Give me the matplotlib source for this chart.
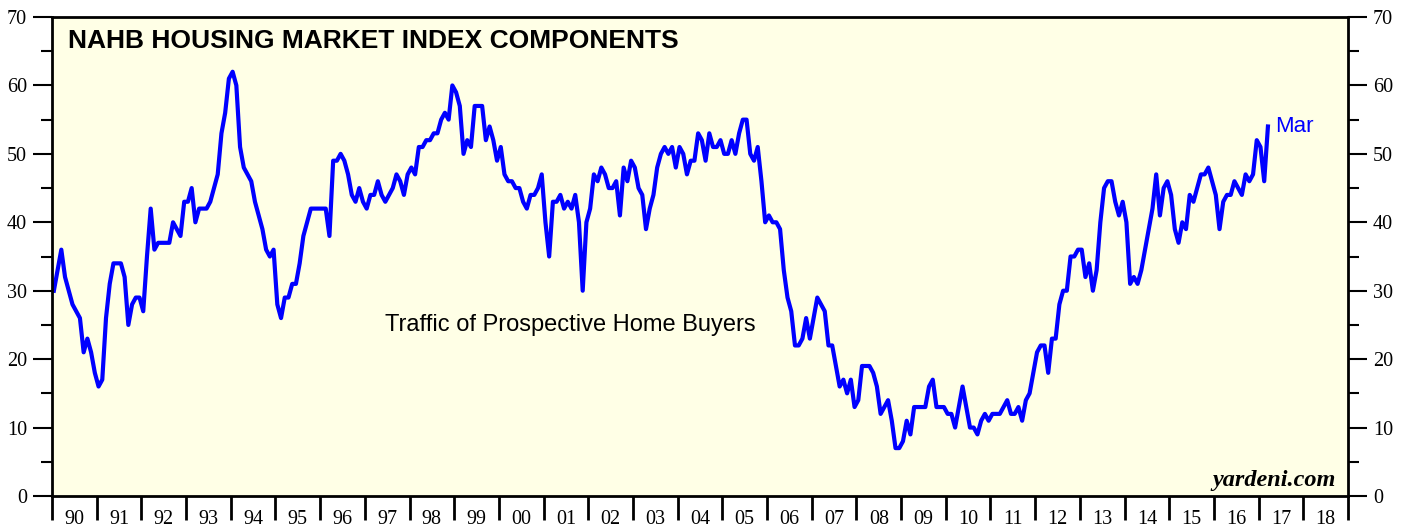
import numpy as np
import matplotlib
matplotlib.use("Agg")
import matplotlib.pyplot as plt
from matplotlib.ticker import FixedLocator, NullFormatter, FixedFormatter

# NAHB traffic of prospective buyers, monthly, Jan 1990 - Mar 2017
traffic = [
    30, 33, 36, 32, 30, 28, 27, 26, 21, 23, 21, 18,   # 1990
    16, 17, 26, 31, 34, 34, 34, 32, 25, 28, 29, 29,   # 1991
    27, 35, 42, 36, 37, 37, 37, 37, 40, 39, 38, 43,   # 1992
    43, 45, 40, 42, 42, 42, 43, 45, 47, 53, 56, 61,   # 1993
    62, 60, 51, 48, 47, 46, 43, 41, 39, 36, 35, 36,   # 1994
    28, 26, 29, 29, 31, 31, 34, 38, 40, 42, 42, 42,   # 1995
    42, 42, 38, 49, 49, 50, 49, 47, 44, 43, 45, 43,   # 1996
    42, 44, 44, 46, 44, 43, 44, 45, 47, 46, 44, 47,   # 1997
    48, 47, 51, 51, 52, 52, 53, 53, 55, 56, 55, 60,   # 1998
    59, 57, 50, 52, 51, 57, 57, 57, 52, 54, 52, 49,   # 1999
    51, 47, 46, 46, 45, 45, 43, 42, 44, 44, 45, 47,   # 2000
    40, 35, 43, 43, 44, 42, 43, 42, 44, 40, 30, 40,   # 2001
    42, 47, 46, 48, 47, 45, 45, 46, 41, 48, 46, 49,   # 2002
    48, 45, 44, 39, 42, 44, 48, 50, 51, 50, 51, 48,   # 2003
    51, 50, 47, 49, 49, 53, 52, 49, 53, 51, 51, 52,   # 2004
    50, 50, 52, 50, 53, 55, 55, 50, 49, 51, 46, 40,   # 2005
    41, 40, 40, 39, 33, 29, 27, 22, 22, 23, 26, 23,   # 2006
    26, 29, 28, 27, 22, 22, 19, 16, 17, 15, 17, 13,   # 2007
    14, 19, 19, 19, 18, 16, 12, 13, 14, 11, 7, 7,     # 2008
    8, 11, 9, 13, 13, 13, 13, 16, 17, 13, 13, 13,     # 2009
    12, 12, 10, 13, 16, 13, 10, 10, 9, 11, 12, 11,    # 2010
    12, 12, 12, 13, 14, 12, 12, 13, 11, 14, 15, 18,   # 2011
    21, 22, 22, 18, 23, 23, 28, 30, 30, 35, 35, 36,   # 2012
    36, 32, 34, 30, 33, 40, 45, 46, 46, 43, 41, 43,   # 2013
    40, 31, 32, 31, 33, 36, 39, 42, 47, 41, 45, 46,   # 2014
    44, 39, 37, 40, 39, 44, 43, 45, 47, 47, 48, 46,   # 2015
    44, 39, 43, 44, 44, 46, 45, 44, 47, 46, 47, 52,   # 2016
    51, 46, 54,                                       # 2017
]
start_year = 1990
end_year = 2019
year_labels = ["%02d" % (y % 100) for y in range(start_year, end_year)]

dates = start_year + (np.arange(len(traffic)) + 0.5) / 12.0

fig = plt.figure(figsize=(14.08, 5.29), dpi=100)
ax = fig.add_axes([52 / 1408, 33 / 529, 1296 / 1408, 479 / 529])
ax.set_facecolor("#FFFFE6")

ax.plot(dates, traffic, color="#0000FF", lw=3.0, solid_joinstyle="round")

ax.set_xlim(start_year, end_year)
ax.set_ylim(0, 70)

for s in ax.spines.values():
    s.set_linewidth(2)
    s.set_color("black")

# x axis: year boundary ticks, labels centred in each year
ax.xaxis.set_major_locator(FixedLocator(np.arange(start_year, end_year + 1)))
ax.xaxis.set_major_formatter(NullFormatter())
ax.xaxis.set_minor_locator(FixedLocator(np.arange(start_year, end_year) + 0.5))
ax.xaxis.set_minor_formatter(FixedFormatter(year_labels))
ax.tick_params(axis="x", which="major", direction="out", length=17, width=2)
ax.tick_params(axis="x", which="minor", length=0, pad=10, labelsize=14.5)

# y axis both sides
ax.set_yticks(np.arange(0, 71, 10))
ax.set_yticks(np.arange(5, 70, 10), minor=True)
ax.tick_params(axis="y", which="major", direction="out", length=14, width=1.5,
               labelsize=14.5, left=True, right=True, labelleft=True, labelright=True, pad=4)
ax.tick_params(axis="y", which="minor", direction="out", length=8, width=1.5,
               left=True, right=True)
for lab in ax.get_xticklabels(minor=True) + ax.get_yticklabels():
    lab.set_fontfamily("Liberation Serif")

ax.text(0.012, 0.935, "NAHB HOUSING MARKET INDEX COMPONENTS", transform=ax.transAxes,
        fontsize=19, fontweight="bold", family="Liberation Sans", va="baseline", ha="left")
ax.text(2001.6, 25, "Traffic of Prospective Home Buyers", fontsize=17,
        family="Liberation Sans", ha="center", va="center")
ax.text(dates[-1] + 0.15, 54, "Mar", color="#0000FF", fontsize=16,
        family="Liberation Sans", ha="left", va="center")
ax.text(0.9907, 0.021, "yardeni.com", transform=ax.transAxes, fontsize=17.5,
        family="Liberation Serif", fontweight="bold", fontstyle="italic",
        ha="right", va="baseline")

fig.savefig("out.png", dpi=100, facecolor="white")
